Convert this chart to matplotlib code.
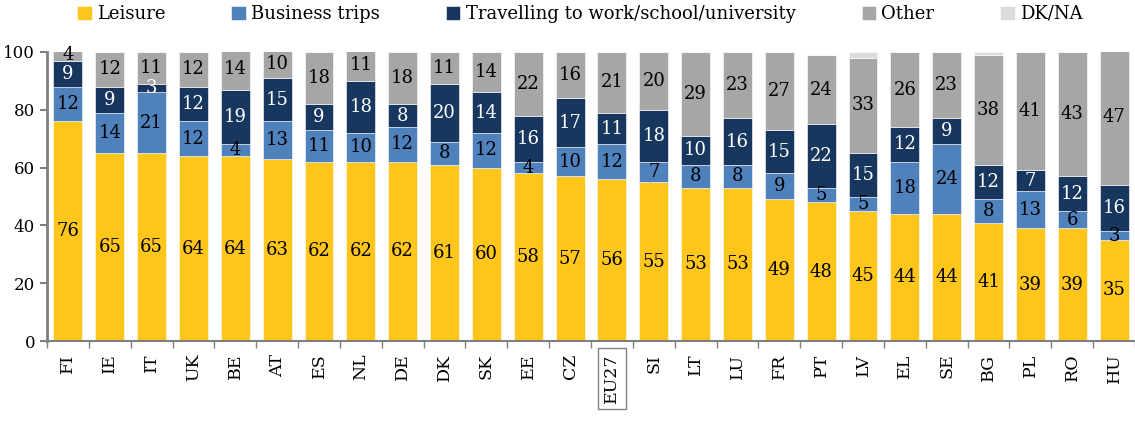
from matplotlib import pyplot as plt
import numpy as np

countries = ['FI', 'IE', 'IT', 'UK', 'BE', 'AT', 'ES', 'NL', 'DE', 'DK', 'SK', 'EE', 'CZ',
             'EU27', 'SI', 'LT', 'LU', 'FR', 'PT', 'LV', 'EL', 'SE', 'BG', 'PL', 'RO', 'HU']

leisure = [76, 65, 65, 64, 64, 63, 62, 62, 62, 61, 60, 58, 57, 56, 55, 53, 53, 49, 48, 45, 44, 44, 41, 39, 39, 35]
business = [12, 14, 21, 12, 4, 13, 11, 10, 12, 8, 12, 4, 10, 12, 7, 8, 8, 9, 5, 5, 18, 24, 8, 13, 6, 3]
travel = [9, 9, 3, 12, 19, 15, 9, 18, 8, 20, 14, 16, 17, 11, 18, 10, 16, 15, 22, 15, 12, 9, 12, 7, 12, 16]
other = [4, 12, 11, 12, 14, 10, 18, 11, 18, 11, 14, 22, 16, 21, 20, 29, 23, 27, 24, 33, 26, 23, 38, 41, 43, 47]
dkna = [0, 0, 0, 0, 0, 0, 0, 0, 1, 0, 0, 0, 0, 0, 0, 0, 0, 0, 0, 2, 0, 0, 1, 0, 0, 0]

series = [
    ('Leisure', leisure, '#FEC61B', 'black'),
    ('Business trips', business, '#4F81BD', 'black'),
    ('Travelling to work/school/university', travel, '#17375E', 'white'),
    ('Other', other, '#A6A6A6', 'black'),
    ('DK/NA', dkna, '#DCDCDC', None),
]

plt.rcParams['font.family'] = ['DejaVu Serif']

fig = plt.figure(figsize=(11.35, 4.21), dpi=100)
ax = fig.add_axes([0.0414, 0.19, 0.9586, 0.6865])

x = np.arange(len(countries))
bottom = np.zeros(len(countries))
for name, vals, color, tcolor in series:
    vals = np.array(vals, dtype=float)
    ax.bar(x, vals, bottom=bottom, width=0.69, color=color, label=name,
           edgecolor='white', linewidth=0.4)
    if tcolor is not None:
        for xi, b, v in zip(x, bottom, vals):
            if v > 0:
                ax.text(xi, b + v / 2, f'{int(v)}', ha='center', va='center',
                        color=tcolor, fontsize=13)
    bottom += vals

ax.set_xlim(-0.5, len(countries) - 0.5)
ax.set_ylim(0, 100)
ax.set_yticks([0, 20, 40, 60, 80, 100])
ax.tick_params(axis='y', labelsize=12, colors='#808080', labelcolor='black', length=5, width=1.5)
ax.set_xticks(x)
ax.set_xticklabels(countries, rotation=90, fontsize=12.5)
ax.tick_params(axis='x', length=0, pad=9)
ax.set_xticks(np.arange(len(countries) + 1) - 0.5, minor=True)
ax.tick_params(axis='x', which='minor', length=5, color='#808080', width=1)
for lab in ax.get_xticklabels():
    if lab.get_text() == 'EU27':
        lab.set_bbox(dict(facecolor='white', edgecolor='#808080', linewidth=1, pad=4))

for s in ['top', 'right']:
    ax.spines[s].set_visible(False)
ax.spines['left'].set_color('#808080')
ax.spines['left'].set_linewidth(2)
ax.spines['bottom'].set_color('#808080')
ax.spines['bottom'].set_linewidth(1.5)

fig.legend(loc='upper center', bbox_to_anchor=(0.511, 1.027), ncol=5, frameon=False,
           fontsize=13, handlelength=0.8, handleheight=0.8, handletextpad=0.3,
           columnspacing=3.65)

fig.savefig('out.png', dpi=100)
